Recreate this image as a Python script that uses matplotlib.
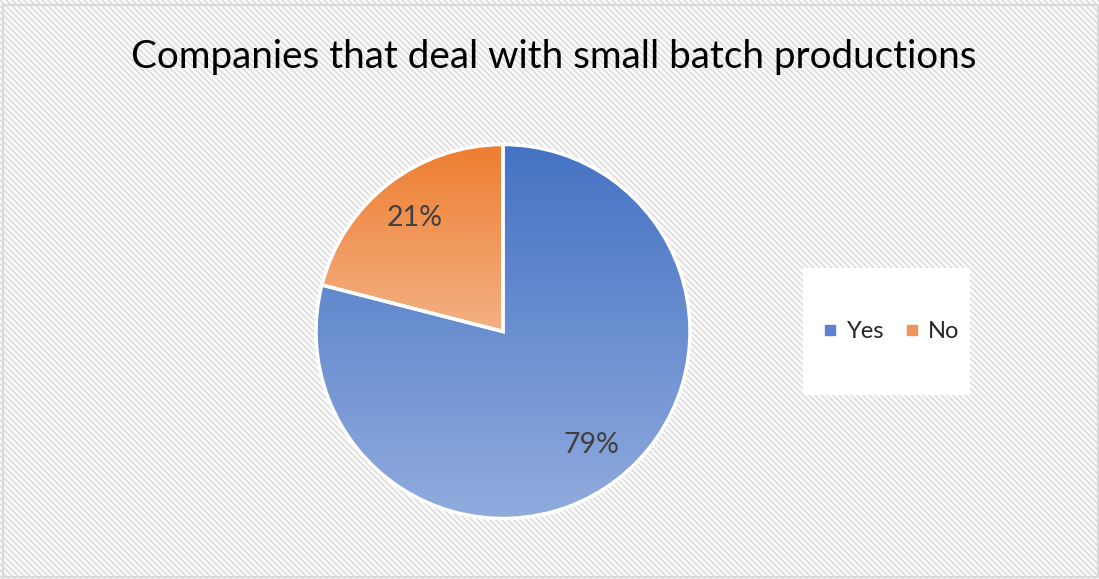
import numpy as np
import matplotlib
matplotlib.use("Agg")
import matplotlib.pyplot as plt
from matplotlib.colors import to_rgb
from matplotlib.patches import Rectangle

plt.rcParams['font.family'] = ['Lato', 'DejaVu Sans']

# Chart data
title = "Companies that deal with small batch productions"
categories = ["Yes", "No"]
shares = [79, 21]

# Gradient colours per slice (top colour, bottom colour)
grad_top = ["#4472C4", "#ED7D31"]
grad_bottom = ["#91ABDD", "#F4B183"]

W, H = 1099, 579
fig = plt.figure(figsize=(W / 100, H / 100), dpi=100)

# Background: fine diagonal stripes over the whole chart area
bg = fig.add_axes([0, 0, 1, 1])
bg.set_axis_off()
yy, xx = np.mgrid[0:H, 0:W]
phase = np.cos(2 * np.pi * (xx - yy) / 6.0) * 0.5 + 0.5
light = np.array([1.0, 1.0, 1.0])
dark = np.array([0.875, 0.875, 0.875])
img = light[None, None, :] * (1 - phase[..., None]) + dark[None, None, :] * phase[..., None]
bg.imshow(img, extent=(0, W, H, 0), interpolation="bilinear", aspect="auto")
bg.set_xlim(0, W)
bg.set_ylim(H, 0)
# Chart border
bg.add_patch(Rectangle((2.5, 4.5), W - 3.5, H - 7, fill=False,
                       edgecolor="#D9D9D9", linewidth=1.5))
# White panel behind the legend
bg.add_patch(Rectangle((803, 268), 167, 127, facecolor="white",
                       edgecolor="none"))

# Title
fig.text(554 / W, 1 - 57 / H, title, ha="center", va="center",
         fontsize=27.8, color="#000000")

# Pie
cx, cy, r = 503, 331.5, 187
ax = fig.add_axes([(cx - r) / W, (H - cy - r) / H, 2 * r / W, 2 * r / H])
wedges, texts, autotexts = ax.pie(
    shares, startangle=90, counterclock=False, radius=1,
    autopct=lambda p: f"{p:.0f}%", pctdistance=0.77,
    wedgeprops=dict(facecolor="none", edgecolor="white", linewidth=2.5),
    textprops=dict(fontsize=20.5, color="#404040"))
ax.set_xlim(-1.0, 1.0)
ax.set_ylim(-1.0, 1.0)
ax.set_aspect("equal")
ax.set_axis_off()

for w, top, bot in zip(wedges, grad_top, grad_bottom):
    path = w.get_path().transformed(w.get_patch_transform())
    ext = path.get_extents()
    t = np.linspace(0, 1, 256)[:, None]
    c0, c1 = np.array(to_rgb(top)), np.array(to_rgb(bot))
    grad = (c0[None, :] * (1 - t) + c1[None, :] * t)[:, None, :]
    im = ax.imshow(grad, extent=(ext.x0, ext.x1, ext.y0, ext.y1),
                   origin="upper", aspect="auto", interpolation="bilinear",
                   zorder=0.5)
    im.set_clip_path(w)
    w.set_zorder(1)
for t in autotexts:
    t.set_zorder(3)
ax.set_xlim(-1.0, 1.0)
ax.set_ylim(-1.0, 1.0)

# Legend
legend_cols = ["#5B81CF", "#F0955A"]
handles = [plt.Line2D([], [], marker="s", linestyle="none", markersize=6.5,
                      markerfacecolor=c, markeredgecolor=c) for c in legend_cols]
fig.legend(handles, categories, loc="center", ncol=2,
           bbox_to_anchor=(892 / W, 1 - 332 / H), frameon=False,
           fontsize=17, handletextpad=0.45, columnspacing=0.9,
           labelcolor="#262626", handlelength=0.5)

fig.savefig("out.png", dpi=100)
